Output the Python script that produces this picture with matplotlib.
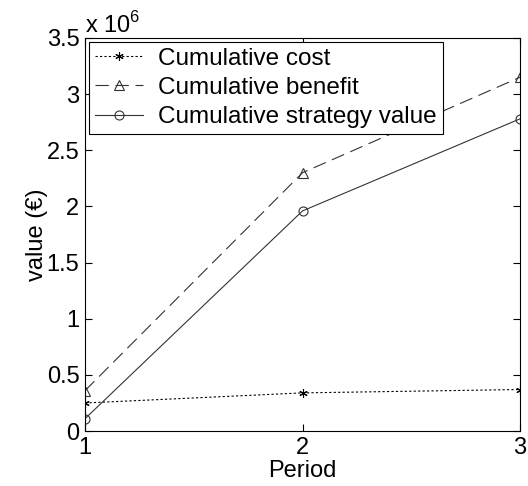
import matplotlib
matplotlib.use("Agg")
import matplotlib.pyplot as plt

plt.rcParams["font.family"] = ["Liberation Sans", "DejaVu Sans"]
plt.rcParams["mathtext.fontset"] = "custom"
plt.rcParams["mathtext.rm"] = "Liberation Sans"

periods = [1, 2, 3]
cum_cost = [0.25e6, 0.34e6, 0.37e6]
cum_benefit = [0.36e6, 2.30e6, 3.15e6]
cum_strategy = [0.11e6, 1.96e6, 2.78e6]

yticks = [0, 0.5e6, 1e6, 1.5e6, 2e6, 2.5e6, 3e6, 3.5e6]
ytick_labels = ["0", "0.5", "1", "1.5", "2", "2.5", "3", "3.5"]

FS = 17

fig = plt.figure(figsize=(5.28, 4.86), dpi=100)
ax = fig.add_axes([0.161, 0.113, 0.824, 0.809])

ax.plot(periods, cum_cost, color="black", linestyle=(0, (2, 2)), linewidth=0.8,
        marker=(6, 2, 0), markersize=6, markeredgewidth=0.8,
        label="Cumulative cost")
ax.plot(periods, cum_benefit, color="#333333", linestyle=(0, (12, 6)), linewidth=0.8,
        marker="^", markersize=7, markerfacecolor="none", markeredgewidth=0.8,
        label="Cumulative benefit")
ax.plot(periods, cum_strategy, color="#333333", linestyle="-", linewidth=0.8,
        marker="o", markersize=6.5, markerfacecolor="none", markeredgewidth=0.8,
        label="Cumulative strategy value")

ax.set_xlim(1, 3)
ax.set_ylim(0, 3.5e6)
ax.set_xticks(periods)
ax.set_xticklabels([str(p) for p in periods])
ax.set_yticks(yticks)
ax.set_yticklabels(ytick_labels)

ax.tick_params(direction="in", length=5, width=0.8, labelsize=FS, pad=4,
               top=True, right=True)
for s in ax.spines.values():
    s.set_linewidth(0.8)

ax.set_xlabel("Period", fontsize=FS, labelpad=1)
ax.set_ylabel("value (€)", fontsize=FS, labelpad=-1)

ax.text(0.0, 1.0, r"x 10$^{6}$", transform=ax.transAxes, fontsize=FS,
        ha="left", va="bottom")

leg = ax.legend(loc="upper left", fontsize=17.5, handlelength=2.0, fancybox=False,
                framealpha=1, edgecolor="black", borderaxespad=0.15,
                labelspacing=0.3, borderpad=0.25, handletextpad=0.6)
leg.get_frame().set_linewidth(0.8)

fig.savefig("out.png", dpi=100)
